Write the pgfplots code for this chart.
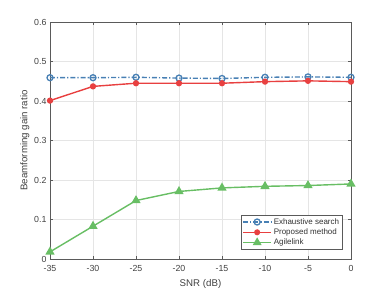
\documentclass[border=0pt]{standalone}
\usepackage{fontspec}
\setmainfont{Liberation Sans}
\usepackage{pgfplots}
\pgfplotsset{compat=1.18}
\definecolor{cblue}{RGB}{72,128,180}
\definecolor{cred}{RGB}{232,64,64}
\definecolor{cgreen}{RGB}{104,190,100}
\definecolor{axgray}{RGB}{90,90,90}
\begin{document}
\begin{tikzpicture}
\begin{axis}[
  scale only axis, width=301pt, height=237pt,
  xmin=-35, xmax=0, ymin=0, ymax=0.6,
  xtick={-35,-30,...,0}, ytick={0,0.1,...,0.6},
  yticklabels={0,0.1,0.2,0.3,0.4,0.5,0.6},
  grid=major, major grid style={gray!20, line width=0.5pt},
  axis line style={axgray, line width=0.6pt},
  tick style={axgray, line width=0.5pt},
  tick align=inside, major tick length=3pt,
  ticklabel style={font=\fontsize{8.8}{10}\selectfont, text=black!75},
  xticklabel style={yshift=-3pt},
  /pgf/number format/assume math mode=true,
  xlabel={SNR (dB)}, ylabel={Beamforming gain ratio},
  label style={font=\fontsize{9.7}{11}\selectfont, text=black!75},
  xlabel style={yshift=-1pt},
  ylabel style={yshift=-2pt},
  legend style={at={(0.973,0.038)}, anchor=south east, font=\fontsize{8}{9.5}\selectfont,
    draw=axgray, line width=0.5pt, inner sep=1.5pt, row sep=-1pt, text=black!80},
  legend cell align=left,
  legend image code/.code={\draw[mark repeat=2,mark phase=2,line width=1.2pt] plot coordinates {(0pt,0pt)(14pt,0pt)(28pt,0pt)};},
]
\addplot[cblue, line width=1.4pt, dash pattern=on 5pt off 2pt on 1.2pt off 2pt,
  mark=o, mark size=3pt, mark options={solid, line width=1.3pt}]
  coordinates {(-35,0.459)(-30,0.459)(-25,0.460)(-20,0.458)(-15,0.457)(-10,0.460)(-5,0.461)(0,0.460)};
\addlegendentry{Exhaustive search}
\addplot[cred, line width=1.4pt, mark=*, mark size=2.4pt, mark options={solid}]
  coordinates {(-35,0.401)(-30,0.437)(-25,0.445)(-20,0.445)(-15,0.445)(-10,0.449)(-5,0.451)(0,0.449)};
\addlegendentry{Proposed method}
\addplot[cgreen, line width=1.4pt, mark=triangle*, mark size=4pt, mark options={solid}]
  coordinates {(-35,0.018)(-30,0.083)(-25,0.148)(-20,0.171)(-15,0.180)(-10,0.184)(-5,0.186)(0,0.190)};
\addlegendentry{Agilelink}
\end{axis}
\pgfresetboundingbox
\path (current axis.south west) ++(-50pt,-32pt) rectangle ++(388pt,291pt);
\end{tikzpicture}
\end{document}
